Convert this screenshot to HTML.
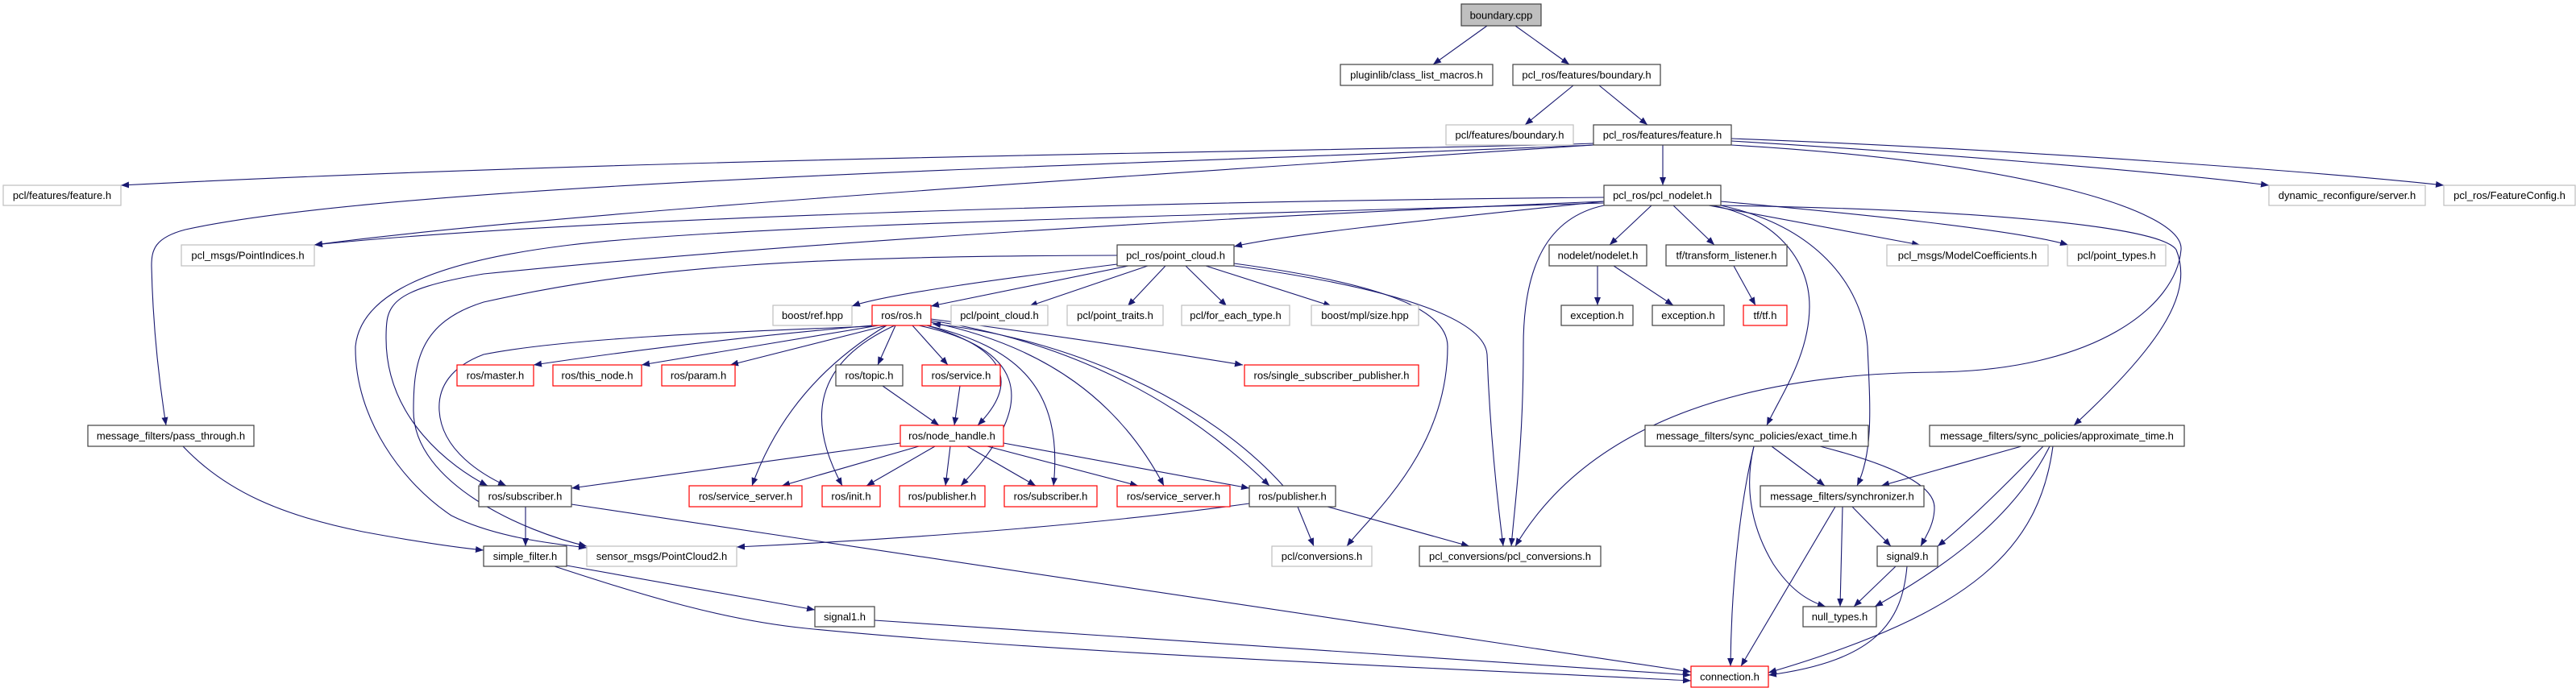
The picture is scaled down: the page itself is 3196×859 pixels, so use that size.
<!DOCTYPE html>
<html><head><meta charset="utf-8"><style>
html,body{margin:0;padding:0;background:#fff;}
svg{display:block;}
text{font-family:"Liberation Sans",sans-serif;font-size:13px;fill:#000;}
.b{fill:#fff;stroke:#404040;stroke-width:1.2}
.g{fill:#fff;stroke:#bfbfbf;stroke-width:1.2}
.r{fill:#fff;stroke:#ff0000;stroke-width:1.2}
.e{fill:none;stroke:#191970;stroke-width:1.1;marker-end:url(#ah)}
</style></head><body>
<svg width="3196" height="859" viewBox="0 0 3196 859" xmlns="http://www.w3.org/2000/svg">
<defs><marker id="ah" markerUnits="userSpaceOnUse" markerWidth="11" markerHeight="8" refX="10" refY="4" orient="auto"><path d="M0,0 L10,4 L0,8 z" fill="#191970"/></marker></defs>
<g>
<path class="e" d="M1845,32 L1778,80"/>
<path class="e" d="M1880,32 L1947,80"/>
<path class="e" d="M1952,106 L1892,155"/>
<path class="e" d="M1984,106 L2044,155"/>
<path class="e" d="M2063,180 L2063,230"/>
<path class="e" d="M1977,178 C1700,188 900,192 150,230"/>
<path class="e" d="M1977,180 C1400,205 500,225 230,285 C192,295 188,310 188,330 C190,420 200,490 206,528"/>
<path class="e" d="M1977,180 C1500,212 700,262 390,304"/>
<path class="e" d="M1990,245 C1400,250 700,272 390,304"/>
<path class="e" d="M2148,175 C2400,190 2700,215 2815,230"/>
<path class="e" d="M2148,172 C2500,185 2900,215 3032,230"/>
<path class="e" d="M2148,180 C2500,200 2710,260 2706,310 C2700,380 2600,460 2400,462 C2100,465 1950,560 1880,678"/>
<path class="e" d="M2135,255 C2450,260 2680,280 2700,310 C2720,360 2690,420 2573,528"/>
<path class="e" d="M1990,250 C1800,270 1600,290 1531,306"/>
<path class="e" d="M2049,255 L1997,304"/>
<path class="e" d="M2076,255 L2127,304"/>
<path class="e" d="M2120,255 L2382,304"/>
<path class="e" d="M2135,250 C2300,265 2500,285 2566,304"/>
<path class="e" d="M2125,255 C2200,270 2245,320 2245,380 C2245,440 2210,490 2192,528"/>
<path class="e" d="M2135,255 C2250,280 2310,350 2317,430 C2320,500 2325,560 2304,603"/>
<path class="e" d="M1990,250 C1500,270 1000,300 600,340 C480,360 479,380 479,420 C479,520 560,580 605,603"/>
<path class="e" d="M1990,252 C1400,270 900,280 700,305 C500,330 446,380 441,430 C440,520 500,600 560,640 C620,670 700,676 728,680"/>
<path class="e" d="M1990,255 C1920,270 1890,330 1890,430 C1890,550 1880,620 1875,678"/>
<path class="e" d="M1386,328 C1250,345 1100,365 1057,380"/>
<path class="e" d="M1400,330 L1155,380"/>
<path class="e" d="M1424,330 L1277,380"/>
<path class="e" d="M1446,330 L1399,380"/>
<path class="e" d="M1471,330 L1522,380"/>
<path class="e" d="M1496,330 L1652,380"/>
<path class="e" d="M1531,327 C1700,350 1796,380 1796,430 C1796,560 1700,640 1671,678"/>
<path class="e" d="M1531,330 C1750,360 1842,400 1845,440 C1848,520 1855,600 1865,678"/>
<path class="e" d="M1386,317 C1000,318 800,330 600,375 C520,400 513,450 513,510 C513,600 650,660 728,678"/>
<path class="e" d="M1082,404 C900,420 750,440 662,453"/>
<path class="e" d="M1082,405 C900,412 700,420 600,440 C560,455 543,480 545,510 C548,560 600,590 628,603"/>
<path class="e" d="M1090,404 L796,453"/>
<path class="e" d="M1100,404 L906,453"/>
<path class="e" d="M1111,404 L1089,453"/>
<path class="e" d="M1132,404 L1176,453"/>
<path class="e" d="M1150,404 C1240,430 1270,470 1213,528"/>
<path class="e" d="M1100,404 C1040,440 970,500 933,603"/>
<path class="e" d="M1110,404 C1010,450 1000,520 1045,603"/>
<path class="e" d="M1140,404 C1260,430 1300,490 1192,603"/>
<path class="e" d="M1150,404 C1260,430 1320,480 1307,603"/>
<path class="e" d="M1155,400 C1300,430 1390,500 1444,603"/>
<path class="e" d="M1155,398 C1300,420 1450,480 1575,603"/>
<path class="e" d="M1592,603 C1500,500 1330,420 1157,402"/>
<path class="e" d="M1155,396 C1300,415 1450,438 1542,453"/>
<path class="e" d="M1117,550 L709,606"/>
<path class="e" d="M1140,554 L970,603"/>
<path class="e" d="M1160,554 L1075,603"/>
<path class="e" d="M1179,554 L1173,603"/>
<path class="e" d="M1200,554 L1285,603"/>
<path class="e" d="M1225,554 L1412,603"/>
<path class="e" d="M1245,550 L1550,606"/>
<path class="e" d="M1095,479 L1165,528"/>
<path class="e" d="M1191,479 L1184,528"/>
<path class="e" d="M1550,625 C1300,660 1000,675 914,679"/>
<path class="e" d="M1610,629 L1630,678"/>
<path class="e" d="M1647,629 L1823,678"/>
<path class="e" d="M652,629 L652,678"/>
<path class="e" d="M709,626 L2098,834"/>
<path class="e" d="M227,554 C280,610 350,640 450,660 C520,673 570,680 600,683"/>
<path class="e" d="M703,702 L1011,757"/>
<path class="e" d="M688,703 C800,740 900,770 1000,780 C1300,810 1800,830 2098,845"/>
<path class="e" d="M1085,770 L2098,838"/>
<path class="e" d="M2198,554 L2264,603"/>
<path class="e" d="M2258,554 C2340,575 2400,600 2400,630 C2400,650 2390,665 2383,678"/>
<path class="e" d="M2176,554 C2165,600 2170,650 2200,700 C2220,730 2240,745 2265,753"/>
<path class="e" d="M2176,554 C2160,620 2148,720 2147,827"/>
<path class="e" d="M2298,629 L2346,678"/>
<path class="e" d="M2286,629 L2283,753"/>
<path class="e" d="M2277,629 L2160,827"/>
<path class="e" d="M2352,703 L2300,753"/>
<path class="e" d="M2366,703 C2360,770 2330,820 2194,838"/>
<path class="e" d="M2508,554 L2334,603"/>
<path class="e" d="M2535,554 C2490,600 2440,650 2404,678"/>
<path class="e" d="M2543,554 C2500,640 2420,700 2326,753"/>
<path class="e" d="M2547,554 C2530,680 2450,760 2194,835"/>
<path class="e" d="M1982,330 L1982,379"/>
<path class="e" d="M2002,330 L2076,379"/>
<path class="e" d="M2151,330 L2178,379"/>
</g>
<g>
<rect x="1813" y="5" width="99" height="27" fill="#bfbfbf" stroke="#404040" stroke-width="1.2"/><text x="1862.5" y="19" text-anchor="middle" dominant-baseline="central">boundary.cpp</text>
<rect class="b" x="1663" y="80" width="189" height="26"/><text x="1757.5" y="93" text-anchor="middle" dominant-baseline="central">pluginlib/class_list_macros.h</text>
<rect class="b" x="1877" y="80" width="183" height="26"/><text x="1968.5" y="93" text-anchor="middle" dominant-baseline="central">pcl_ros/features/boundary.h</text>
<rect class="g" x="1794" y="155" width="158" height="25"/><text x="1873" y="167.5" text-anchor="middle" dominant-baseline="central">pcl/features/boundary.h</text>
<rect class="b" x="1977" y="155" width="171" height="25"/><text x="2062.5" y="167.5" text-anchor="middle" dominant-baseline="central">pcl_ros/features/feature.h</text>
<rect class="g" x="4" y="230" width="146" height="25"/><text x="77" y="242.5" text-anchor="middle" dominant-baseline="central">pcl/features/feature.h</text>
<rect class="b" x="1990" y="230" width="145" height="25"/><text x="2062.5" y="242.5" text-anchor="middle" dominant-baseline="central">pcl_ros/pcl_nodelet.h</text>
<rect class="g" x="2815" y="230" width="194" height="25"/><text x="2912" y="242.5" text-anchor="middle" dominant-baseline="central">dynamic_reconfigure/server.h</text>
<rect class="g" x="3032" y="230" width="163" height="25"/><text x="3113.5" y="242.5" text-anchor="middle" dominant-baseline="central">pcl_ros/FeatureConfig.h</text>
<rect class="g" x="225" y="304" width="165" height="26"/><text x="307.5" y="317" text-anchor="middle" dominant-baseline="central">pcl_msgs/PointIndices.h</text>
<rect class="b" x="1386" y="304" width="145" height="26"/><text x="1458.5" y="317" text-anchor="middle" dominant-baseline="central">pcl_ros/point_cloud.h</text>
<rect class="b" x="1922" y="304" width="121" height="26"/><text x="1982.5" y="317" text-anchor="middle" dominant-baseline="central">nodelet/nodelet.h</text>
<rect class="b" x="2067" y="304" width="150" height="26"/><text x="2142" y="317" text-anchor="middle" dominant-baseline="central">tf/transform_listener.h</text>
<rect class="g" x="2341" y="304" width="200" height="26"/><text x="2441" y="317" text-anchor="middle" dominant-baseline="central">pcl_msgs/ModelCoefficients.h</text>
<rect class="g" x="2565" y="304" width="122" height="26"/><text x="2626" y="317" text-anchor="middle" dominant-baseline="central">pcl/point_types.h</text>
<rect class="g" x="959" y="379" width="98" height="25"/><text x="1008" y="391.5" text-anchor="middle" dominant-baseline="central">boost/ref.hpp</text>
<rect class="r" x="1082" y="379" width="73" height="25"/><text x="1118.5" y="391.5" text-anchor="middle" dominant-baseline="central">ros/ros.h</text>
<rect class="g" x="1180" y="379" width="120" height="25"/><text x="1240" y="391.5" text-anchor="middle" dominant-baseline="central">pcl/point_cloud.h</text>
<rect class="g" x="1324" y="379" width="119" height="25"/><text x="1383.5" y="391.5" text-anchor="middle" dominant-baseline="central">pcl/point_traits.h</text>
<rect class="g" x="1466" y="379" width="134" height="25"/><text x="1533" y="391.5" text-anchor="middle" dominant-baseline="central">pcl/for_each_type.h</text>
<rect class="g" x="1627" y="379" width="133" height="25"/><text x="1693.5" y="391.5" text-anchor="middle" dominant-baseline="central">boost/mpl/size.hpp</text>
<rect class="b" x="1937" y="379" width="89" height="25"/><text x="1981.5" y="391.5" text-anchor="middle" dominant-baseline="central">exception.h</text>
<rect class="b" x="2050" y="379" width="89" height="25"/><text x="2094.5" y="391.5" text-anchor="middle" dominant-baseline="central">exception.h</text>
<rect class="r" x="2163" y="379" width="54" height="25"/><text x="2190" y="391.5" text-anchor="middle" dominant-baseline="central">tf/tf.h</text>
<rect class="r" x="567" y="453" width="95" height="26"/><text x="614.5" y="466" text-anchor="middle" dominant-baseline="central">ros/master.h</text>
<rect class="r" x="686" y="453" width="110" height="26"/><text x="741" y="466" text-anchor="middle" dominant-baseline="central">ros/this_node.h</text>
<rect class="r" x="821" y="453" width="91" height="26"/><text x="866.5" y="466" text-anchor="middle" dominant-baseline="central">ros/param.h</text>
<rect class="b" x="1037" y="453" width="83" height="26"/><text x="1078.5" y="466" text-anchor="middle" dominant-baseline="central">ros/topic.h</text>
<rect class="r" x="1144" y="453" width="97" height="26"/><text x="1192.5" y="466" text-anchor="middle" dominant-baseline="central">ros/service.h</text>
<rect class="r" x="1544" y="453" width="216" height="26"/><text x="1652" y="466" text-anchor="middle" dominant-baseline="central">ros/single_subscriber_publisher.h</text>
<rect class="b" x="109" y="528" width="206" height="26"/><text x="212" y="541" text-anchor="middle" dominant-baseline="central">message_filters/pass_through.h</text>
<rect class="r" x="1117" y="528" width="128" height="26"/><text x="1181" y="541" text-anchor="middle" dominant-baseline="central">ros/node_handle.h</text>
<rect class="b" x="2041" y="528" width="277" height="26"/><text x="2179.5" y="541" text-anchor="middle" dominant-baseline="central">message_filters/sync_policies/exact_time.h</text>
<rect class="b" x="2394" y="528" width="316" height="26"/><text x="2552" y="541" text-anchor="middle" dominant-baseline="central">message_filters/sync_policies/approximate_time.h</text>
<rect class="b" x="594" y="603" width="115" height="26"/><text x="651.5" y="616" text-anchor="middle" dominant-baseline="central">ros/subscriber.h</text>
<rect class="r" x="855" y="603" width="140" height="26"/><text x="925" y="616" text-anchor="middle" dominant-baseline="central">ros/service_server.h</text>
<rect class="r" x="1020" y="603" width="72" height="26"/><text x="1056" y="616" text-anchor="middle" dominant-baseline="central">ros/init.h</text>
<rect class="r" x="1116" y="603" width="106" height="26"/><text x="1169" y="616" text-anchor="middle" dominant-baseline="central">ros/publisher.h</text>
<rect class="r" x="1246" y="603" width="115" height="26"/><text x="1303.5" y="616" text-anchor="middle" dominant-baseline="central">ros/subscriber.h</text>
<rect class="r" x="1386" y="603" width="140" height="26"/><text x="1456" y="616" text-anchor="middle" dominant-baseline="central">ros/service_server.h</text>
<rect class="b" x="1550" y="603" width="107" height="26"/><text x="1603.5" y="616" text-anchor="middle" dominant-baseline="central">ros/publisher.h</text>
<rect class="b" x="2184" y="603" width="203" height="26"/><text x="2285.5" y="616" text-anchor="middle" dominant-baseline="central">message_filters/synchronizer.h</text>
<rect class="b" x="600" y="678" width="103" height="25"/><text x="651.5" y="690.5" text-anchor="middle" dominant-baseline="central">simple_filter.h</text>
<rect class="g" x="728" y="678" width="186" height="25"/><text x="821" y="690.5" text-anchor="middle" dominant-baseline="central">sensor_msgs/PointCloud2.h</text>
<rect class="g" x="1578" y="678" width="124" height="25"/><text x="1640" y="690.5" text-anchor="middle" dominant-baseline="central">pcl/conversions.h</text>
<rect class="b" x="1761" y="678" width="225" height="25"/><text x="1873.5" y="690.5" text-anchor="middle" dominant-baseline="central">pcl_conversions/pcl_conversions.h</text>
<rect class="b" x="2329" y="678" width="75" height="25"/><text x="2366.5" y="690.5" text-anchor="middle" dominant-baseline="central">signal9.h</text>
<rect class="b" x="1011" y="753" width="74" height="25"/><text x="1048" y="765.5" text-anchor="middle" dominant-baseline="central">signal1.h</text>
<rect class="b" x="2237" y="753" width="91" height="25"/><text x="2282.5" y="765.5" text-anchor="middle" dominant-baseline="central">null_types.h</text>
<rect class="r" x="2098" y="827" width="96" height="26"/><text x="2146" y="840" text-anchor="middle" dominant-baseline="central">connection.h</text>
</g>
</svg>
</body></html>
